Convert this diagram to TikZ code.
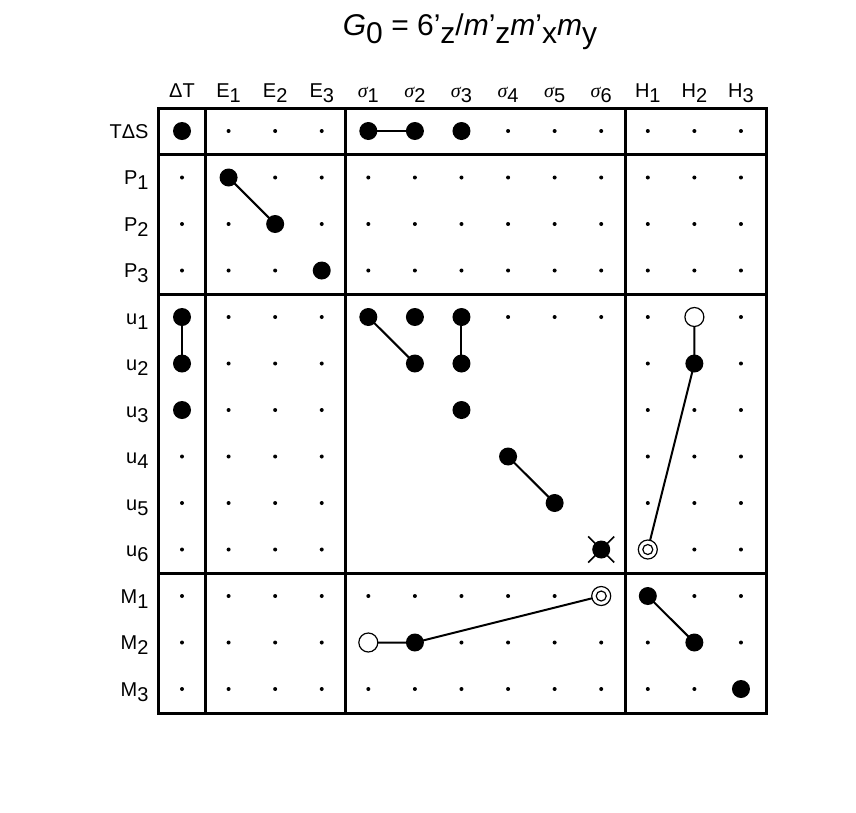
\documentclass[tikz,border=0pt]{standalone}
\usepackage{fontspec}
\usetikzlibrary{calc}
\setmainfont{Liberation Sans}
\newfontfamily\symf{Liberation Serif}
\newcommand{\sbs}[1]{\raisebox{-0.5ex}{#1}}
\newcommand{\sg}[1]{{\symf\itshape σ}\sbs{#1}}
\begin{document}
\begin{tikzpicture}[x=1pt,y=-1pt,
  sm/.style={circle,fill=black,inner sep=0pt,minimum size=4pt},
  big/.style={circle,fill=black,inner sep=0pt,minimum size=18pt},
  opn/.style={circle,draw=black,fill=white,line width=1.2pt,inner sep=0pt,minimum size=19pt},
  dbl/.style={circle,draw=black,fill=white,line width=1.2pt,inner sep=0pt,minimum size=19pt,
     append after command={node[circle,draw=black,line width=1.2pt,inner sep=0pt,minimum size=10pt] at (\tikzlastnode.center) {}}},
  lnk/.style={line width=2pt},
  frm/.style={line width=3pt},
  lbl/.style={font=\fontsize{20}{22}\selectfont}]
\useasboundingbox (0,0) rectangle (856,812);
\foreach \r in {1,...,13} \foreach \c in {1,...,13}
  \coordinate (\r-\c) at ({182+(\c-1)*46.58},{131+(\r-1)*46.5});
% small dots
\foreach \r in {1,...,13} \foreach \c in {1,...,13} {
  \pgfmathtruncatemacro{\skip}{(\r>=6 && \r<=10 && \c>=5 && \c<=10) ? 1 : 0}
  \ifnum\skip=0 \node[sm] (s\r-\c) at (\r-\c) {}; \fi
}
% frame
\draw[frm] (158,108) rectangle (766,713);
\draw[frm] (205,108) -- (205,713) (345,108) -- (345,713) (625,108) -- (625,713);
\draw[frm] (158,154) -- (766,154) (158,294) -- (766,294) (158,573) -- (766,573);
% links
\draw[lnk] (1-5) -- (1-6);
\draw[lnk] (2-2) -- (3-3);
\draw[lnk] (5-1) -- (6-1);
\draw[lnk] (5-5) -- (6-6);
\draw[lnk] (5-7) -- (6-7);
\draw[lnk] (8-8) -- (9-9);
\draw[lnk] (5-12) -- (6-12) -- (10-11);
\draw[lnk] (12-5) -- (12-6) -- (11-10);
\draw[lnk] (11-11) -- (12-12);
% big dots
\foreach \p in {1-1,1-5,1-6,1-7,2-2,3-3,4-4,5-1,6-1,7-1,5-5,5-6,5-7,6-6,6-7,7-7,8-8,9-9,6-12,11-11,12-12,13-13,12-6}
  \node[big] (b\p) at (\p) {};
\node[big] (b10-10) at (10-10) {};
\draw[line width=1.5pt] ($(10-10)+(-13,-13)$) -- ($(10-10)+(13,13)$) ($(10-10)+(-13,13)$) -- ($(10-10)+(13,-13)$);
\node[opn] (o5-12) at (5-12) {};
\node[opn] (o12-5) at (12-5) {};
\node[dbl] (d10-11) at (10-11) {};
\node[dbl] (d11-10) at (11-10) {};
% labels
\node[font=\fontsize{30}{32}\selectfont] (title) at (470,32) {\textit{G}\sbs{0} = 6'\sbs{z}/\textit{m}'\sbs{z}\textit{m}'\sbs{x}\textit{m}\sbs{y}};
\foreach \t [count=\c] in {ΔT,E\sbs{1},E\sbs{2},E\sbs{3},\sg{1},\sg{2},\sg{3},\sg{4},\sg{5},\sg{6},H\sbs{1},H\sbs{2},H\sbs{3}}
  \node[lbl,anchor=base] (cl\c) at ({182+(\c-1)*46.58},97) {\t};
\foreach \t [count=\r] in {TΔS,P\sbs{1},P\sbs{2},P\sbs{3},u\sbs{1},u\sbs{2},u\sbs{3},u\sbs{4},u\sbs{5},u\sbs{6},M\sbs{1},M\sbs{2},M\sbs{3}}
  \node[lbl,anchor=base east] (rl\r) at (152,{131+(\r-1)*46.5+7}) {\t};
\end{tikzpicture}
\end{document}
